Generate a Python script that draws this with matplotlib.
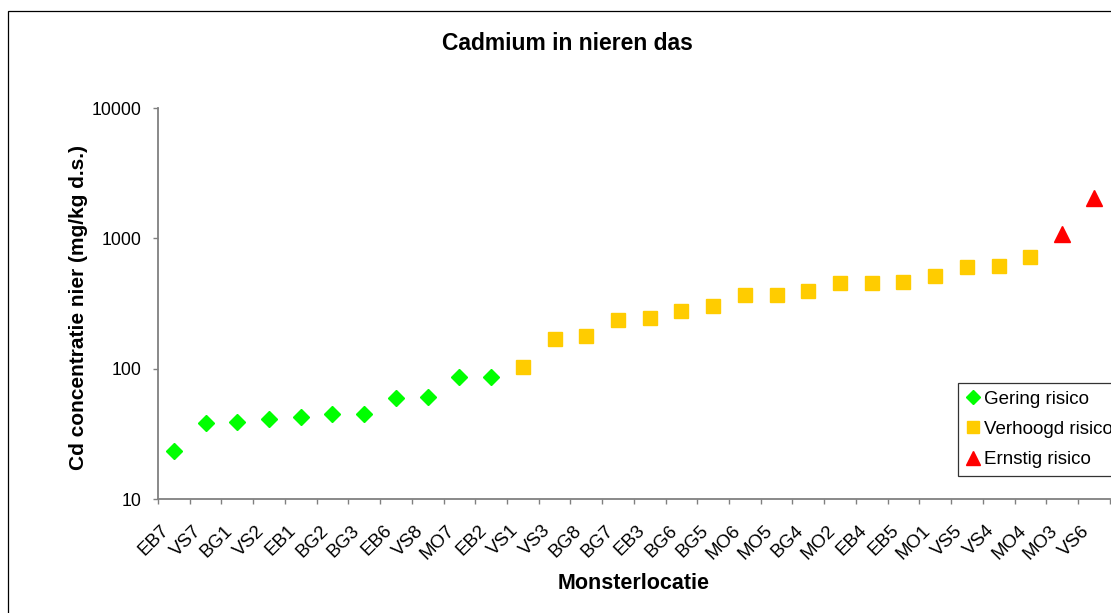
import matplotlib
matplotlib.use('Agg')
import numpy as np
import matplotlib.pyplot as plt
from matplotlib.lines import Line2D
from matplotlib.patches import Rectangle
from matplotlib.ticker import NullLocator
from matplotlib.transforms import ScaledTranslation

plt.rcParams['font.family'] = ['Liberation Sans', 'DejaVu Sans']

# monsterlocaties, oplopend gesorteerd op Cd concentratie
locaties = ['EB7', 'VS7', 'BG1', 'VS2', 'EB1', 'BG2', 'BG3', 'EB6', 'VS8', 'MO7',
            'EB2', 'VS1', 'VS3', 'BG8', 'BG7', 'EB3', 'BG6', 'BG5', 'MO6', 'MO5',
            'BG4', 'MO2', 'EB4', 'EB5', 'MO1', 'VS5', 'VS4', 'MO4', 'MO3', 'VS6']

# Cd concentratie nier (mg/kg d.s.) per risicoklasse
cd_gering = [23.4, 38.1, 39.2, 40.9, 42.4, 44.7, 44.7, 59.6, 60.6, 86.8, 86.8]
cd_verhoogd = [103, 168, 177, 236, 244, 276, 305, 368, 368, 397, 452, 452,
               465, 514, 600, 617, 719]
cd_ernstig = [1074, 2047]

yticks = [10, 100, 1000, 10000]

n_g = len(cd_gering)
n_v = len(cd_verhoogd)
x_g = np.arange(0, n_g)
x_v = np.arange(n_g, n_g + n_v)
x_e = np.arange(n_g + n_v, n_g + n_v + len(cd_ernstig))

fig = plt.figure(figsize=(11.11, 6.13), dpi=100)
ax = fig.add_axes([158/1111, 1 - 499/613, 951.7/1111, 391/613])

ax.plot(x_g, cd_gering, ls='none', marker='D', ms=8.0, color='#00FF00', mec='#00FF00', clip_on=False)
ax.plot(x_v, cd_verhoogd, ls='none', marker='s', ms=9.8, color='#FFCC00', mec='#FFCC00', clip_on=False)
ax.plot(x_e, cd_ernstig, ls='none', marker='^', ms=11.5, color='#FF0000', mec='#FF0000', clip_on=False)

ax.set_yscale('log')
ax.set_ylim(10, 10000)
ax.set_yticks(yticks, labels=[str(t) for t in yticks])
ax.yaxis.set_minor_locator(NullLocator())
ax.set_xlim(-0.5, len(locaties) - 0.5)

# tickmarks tussen de categorieen, labels op de categorieen
ax.set_xticks(np.arange(len(locaties) + 1) - 0.5, labels=[''] * (len(locaties) + 1))
ax.set_xticks(np.arange(len(locaties)), labels=locaties, minor=True)

for s in ['top', 'right']:
    ax.spines[s].set_visible(False)
for s in ['left', 'bottom']:
    ax.spines[s].set_color('#808080')
    ax.spines[s].set_linewidth(1.3)

ax.tick_params(axis='y', which='major', direction='out', length=3.8, width=1.0,
               color='#808080', pad=8, labelsize=12.7, labelcolor='black')
ax.tick_params(axis='x', which='major', direction='out', length=3.8, width=1.0,
               color='#808080')
ax.tick_params(axis='x', which='minor', length=0, pad=21, labelsize=13.5,
               labelrotation=45, labelcolor='black')

ax.set_ylabel('Cd concentratie nier (mg/kg d.s.)', fontsize=15, fontweight='bold')
ax.yaxis.set_label_coords(-0.074, 0.49)
ax.set_xlabel('Monsterlocatie', fontsize=15.5, fontweight='bold')
ax.xaxis.set_label_coords(0.5, -0.19)

fig.text(567/1111, 1 - 44/613, 'Cadmium in nieren das', ha='center', va='center',
         fontsize=16.5, fontweight='bold')

handles = [
    Line2D([], [], ls='none', marker='D', ms=6.8, color='#00FF00', label='Gering risico'),
    Line2D([], [], ls='none', marker='s', ms=8.4, color='#FFCC00', label='Verhoogd risico'),
    Line2D([], [], ls='none', marker='^', ms=9.6, color='#FF0000', label='Ernstig risico'),
]
leg = ax.legend(handles=handles, loc='upper left', bbox_to_anchor=(958/1111, 1 - 383/613),
                bbox_transform=fig.transFigure, fontsize=13.5, frameon=True,
                fancybox=False, shadow=False, borderpad=0.4, handlelength=0.75,
                handletextpad=0.22, labelspacing=0.7, borderaxespad=0)
leg.get_frame().set_edgecolor('black')
leg.get_frame().set_linewidth(0.9)

# rand om de hele grafiek
fig.add_artist(Rectangle((8/1111, -0.05), 1.2, (1 - 11/613) + 0.05, transform=fig.transFigure,
                         fill=False, edgecolor='black', linewidth=0.9))

shift = ScaledTranslation(-7/100, 0, fig.dpi_scale_trans)
for lbl in ax.get_xticklabels(minor=True):
    lbl.set_ha('right')
    lbl.set_va('center')
    lbl.set_rotation_mode('anchor')
    lbl.set_transform(lbl.get_transform() + shift)

fig.savefig('out.png', dpi=100)
